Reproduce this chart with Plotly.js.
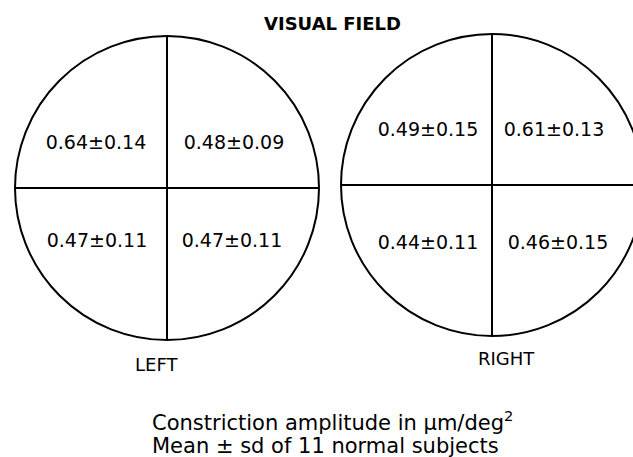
<!DOCTYPE html>
<html><head><meta charset="utf-8">
<script src="https://cdn.plot.ly/plotly-3.0.1.min.js"></script>
<style>html,body{margin:0;padding:0;background:#fff;}#chart{width:633px;height:457px;}</style>
</head><body><div id="chart"></div>
<script>
// Data
const eyes = ["LEFT", "RIGHT"];
const quadrants = ["upper-left", "upper-right", "lower-left", "lower-right"];
const leftMean = [0.64, 0.48, 0.47, 0.47];
const leftSD = [0.14, 0.09, 0.11, 0.11];
const rightMean = [0.49, 0.61, 0.44, 0.46];
const rightSD = [0.15, 0.13, 0.11, 0.15];
const titleText = "VISUAL FIELD";
const noteLines = ["Constriction amplitude in \u00b5m/deg<sup>2</sup>", "Mean \u00b1 sd of 11 normal subjects"];

// Layout geometry (pixel-like coordinates)
const centers = [{x:167, y:188, r:152}, {x:492, y:185, r:151}];
const textOff = [
  [{dx:-71, dy:-44}, {dx:67, dy:-44}, {dx:-70, dy:54}, {dx:65, dy:54}],
  [{dx:-64, dy:-54}, {dx:62, dy:-54}, {dx:-64, dy:59}, {dx:66, dy:59}]
];
const labelOff = [{dx:-11, dy:176}, {dx:14, dy:173}];

const fmt = v => v.toFixed(2);
const means = [leftMean, rightMean];
const sds = [leftSD, rightSD];

const tx = [], ty = [], tt = [];
for (let e = 0; e < 2; e++) {
  for (let q = 0; q < quadrants.length; q++) {
    tx.push(centers[e].x + textOff[e][q].dx);
    ty.push(centers[e].y + textOff[e][q].dy);
    tt.push(fmt(means[e][q]) + "\u00b1" + fmt(sds[e][q]));
  }
}

const shapes = [];
centers.forEach(c => {
  shapes.push({type:"circle", xref:"x", yref:"y", x0:c.x-c.r, x1:c.x+c.r, y0:c.y-c.r, y1:c.y+c.r,
    line:{color:"#000", width:2}});
  shapes.push({type:"line", xref:"x", yref:"y", x0:c.x, x1:c.x, y0:c.y-c.r, y1:c.y+c.r, line:{color:"#000", width:2}});
  shapes.push({type:"line", xref:"x", yref:"y", x0:c.x-c.r, x1:c.x+c.r, y0:c.y, y1:c.y, line:{color:"#000", width:2}});
});

const font = "DejaVu Sans, sans-serif";
const annotations = [];
annotations.push({x:332, y:23, xref:"x", yref:"y", text:"<b>"+titleText+"</b>", showarrow:false,
  font:{family:font, size:18, color:"#000"}});
eyes.forEach((name, e) => {
  annotations.push({x:centers[e].x + labelOff[e].dx, y:centers[e].y + labelOff[e].dy, xref:"x", yref:"y",
    text:name, showarrow:false, font:{family:font, size:18, color:"#000"}});
});
annotations.push({x:150, y:421, xref:"x", yref:"y", text:noteLines[0], showarrow:false, xanchor:"left",
  font:{family:font, size:21, color:"#000"}});
annotations.push({x:150, y:446, xref:"x", yref:"y", text:noteLines[1], showarrow:false, xanchor:"left",
  font:{family:font, size:21, color:"#000"}});

const trace = {x:tx, y:ty, text:tt, mode:"text", type:"scatter",
  textfont:{family:font, size:19, color:"#000"}, hoverinfo:"none", showlegend:false};

Plotly.newPlot("chart", [trace], {
  width:633, height:457, margin:{l:0, r:0, t:0, b:0},
  paper_bgcolor:"#fff", plot_bgcolor:"#fff",
  xaxis:{range:[0,633], visible:false, fixedrange:true},
  yaxis:{range:[457,0], visible:false, fixedrange:true},
  shapes:shapes, annotations:annotations, showlegend:false
}, {staticPlot:true, displayModeBar:false});
</script></body></html>
